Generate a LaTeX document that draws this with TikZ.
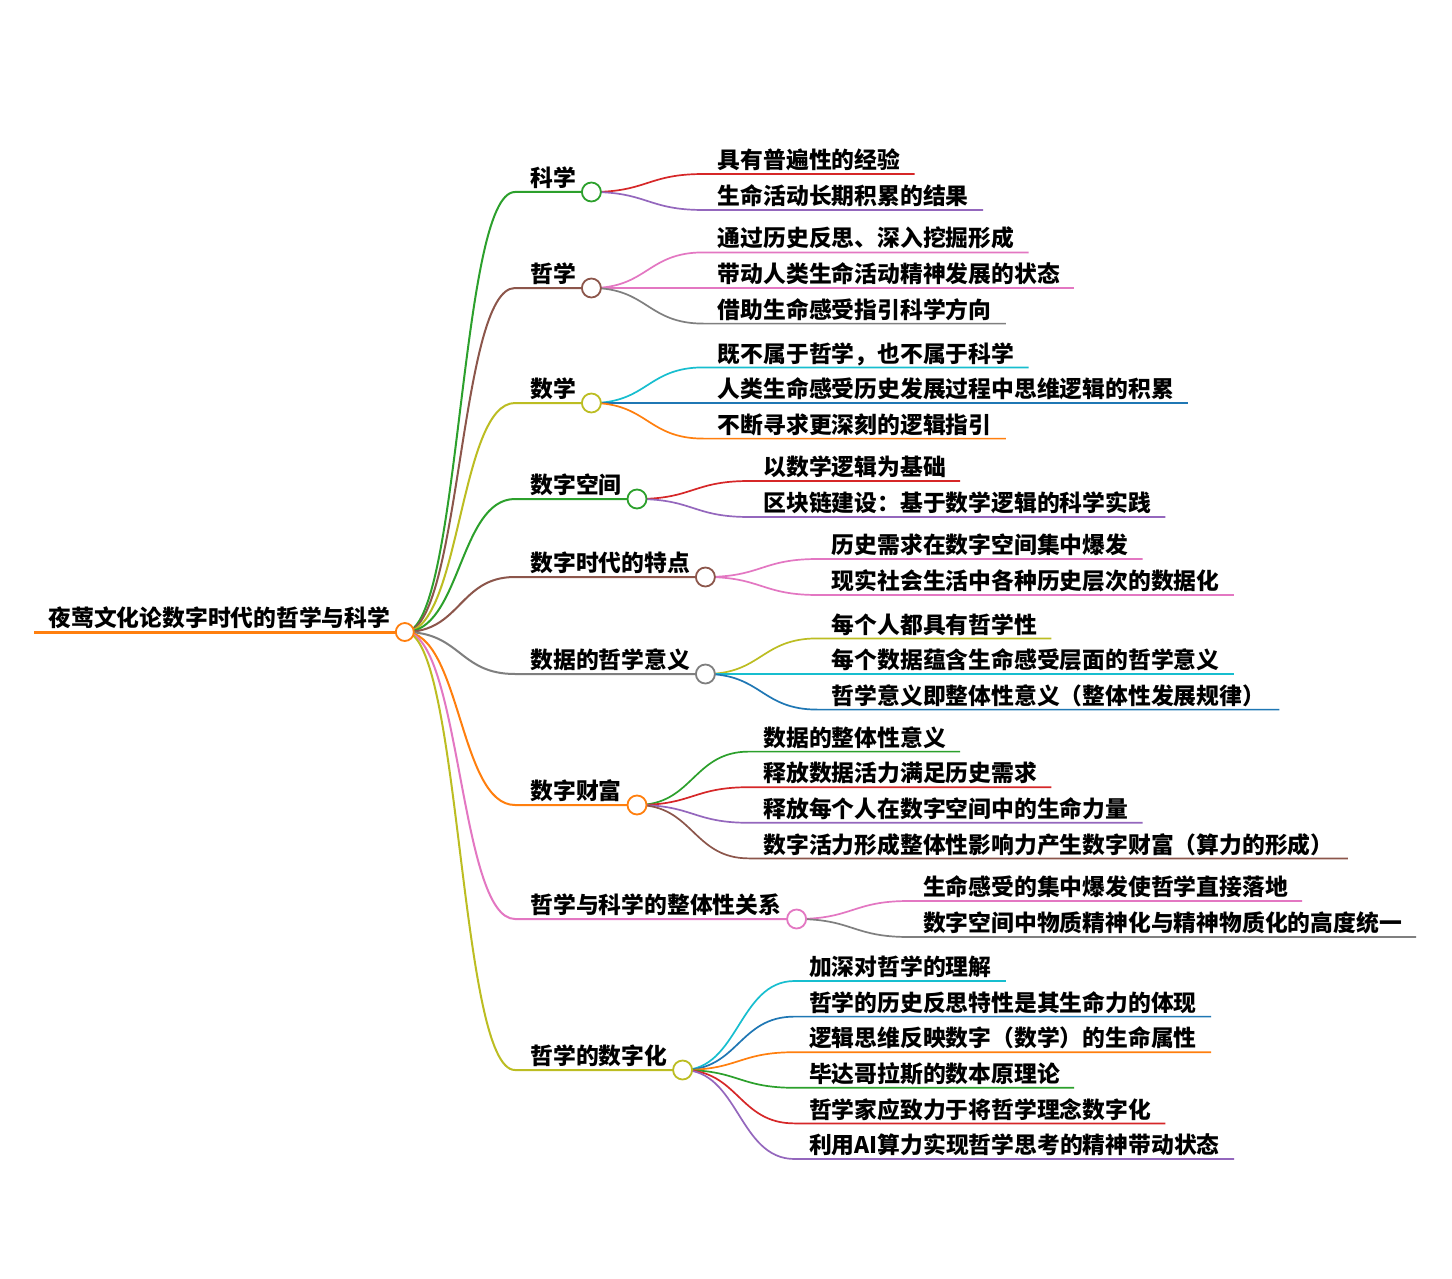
\documentclass[tikz,border=0pt]{standalone}
\usepackage{fontspec}
\usepackage{tikz}
\usepackage{xcolor}
\usetikzlibrary{positioning}

\newfontfamily\cjk{Noto Sans CJK SC}

\definecolor{mmblue}{HTML}{1F77B4}
\definecolor{mmorange}{HTML}{FF7F0E}
\definecolor{mmgreen}{HTML}{2CA02C}
\definecolor{mmred}{HTML}{D62728}
\definecolor{mmpurple}{HTML}{9467BD}
\definecolor{mmbrown}{HTML}{8C564B}
\definecolor{mmpink}{HTML}{E377C2}
\definecolor{mmgray}{HTML}{7F7F7F}
\definecolor{mmolive}{HTML}{BCBD22}
\definecolor{mmcyan}{HTML}{17BECF}

\begin{document}
\begin{tikzpicture}[
    x=0.5pt, y=-0.5pt,
    topic/.style={anchor=south west, inner xsep=7.5pt, inner ysep=1.5pt, text height=8.7pt, text depth=1pt, font=\cjk\bfseries\fontsize{11.4pt}{13pt}\selectfont},
    leaf/.style={topic, inner xsep=7pt},
    dot/.style={circle, draw, fill=white, inner sep=0pt, minimum size=9.5pt, line width=0.9pt},
    branch/.style={line width=1pt, to path={.. controls ([xshift=28pt]\tikztostart) and ([xshift=-28pt]\tikztotarget) .. (\tikztotarget)}},
    twig/.style={branch, line width=0.85pt}
]

\fill [white] (0,0) rectangle (1452,1279);

% Root
\node [topic, inner xsep=7pt] (root) at (34,632) {夜莺文化论数字时代的哲学与科学};

% Main topics
\node [topic] (kexue) at (515,192) {科学};
\node [topic] (zhexue) at (515,288) {哲学};
\node [topic] (shuxue) at (515,403) {数学};
\node [topic] (kongjian) at (515,499) {数字空间};
\node [topic] (tedian) at (515,577) {数字时代的特点};
\node [topic] (yiyi) at (515,674) {数据的哲学意义};
\node [topic] (caifu) at (515,805) {数字财富};
\node [topic] (guanxi) at (515,919) {哲学与科学的整体性关系};
\node [topic] (shuzihua) at (515,1070) {哲学的数字化};

% Leaves
\node [leaf] (kexue1) at ([shift={(56pt,9pt)}]kexue.south east) {具有普遍性的经验};
\node [leaf] (kexue2) at ([shift={(56pt,-9pt)}]kexue.south east) {生命活动长期积累的结果};

\node [leaf] (zhexue1) at ([shift={(56pt,17.8pt)}]zhexue.south east) {通过历史反思、深入挖掘形成};
\node [leaf] (zhexue2) at ([shift={(56pt,0pt)}]zhexue.south east) {带动人类生命活动精神发展的状态};
\node [leaf] (zhexue3) at ([shift={(56pt,-17.8pt)}]zhexue.south east) {借助生命感受指引科学方向};

\node [leaf] (shuxue1) at ([shift={(56pt,17.8pt)}]shuxue.south east) {既不属于哲学，也不属于科学};
\node [leaf] (shuxue2) at ([shift={(56pt,0pt)}]shuxue.south east) {人类生命感受历史发展过程中思维逻辑的积累};
\node [leaf] (shuxue3) at ([shift={(56pt,-17.8pt)}]shuxue.south east) {不断寻求更深刻的逻辑指引};

\node [leaf] (kongjian1) at ([shift={(56pt,9pt)}]kongjian.south east) {以数学逻辑为基础};
\node [leaf] (kongjian2) at ([shift={(56pt,-9pt)}]kongjian.south east) {区块链建设：基于数学逻辑的科学实践};

\node [leaf] (tedian1) at ([shift={(56pt,9pt)}]tedian.south east) {历史需求在数字空间集中爆发};
\node [leaf] (tedian2) at ([shift={(56pt,-9pt)}]tedian.south east) {现实社会生活中各种历史层次的数据化};

\node [leaf] (yiyi1) at ([shift={(56pt,17.8pt)}]yiyi.south east) {每个人都具有哲学性};
\node [leaf] (yiyi2) at ([shift={(56pt,0pt)}]yiyi.south east) {每个数据蕴含生命感受层面的哲学意义};
\node [leaf] (yiyi3) at ([shift={(56pt,-17.8pt)}]yiyi.south east) {哲学意义即整体性意义（整体性发展规律）};

\node [leaf] (caifu1) at ([shift={(56pt,26.7pt)}]caifu.south east) {数据的整体性意义};
\node [leaf] (caifu2) at ([shift={(56pt,8.9pt)}]caifu.south east) {释放数据活力满足历史需求};
\node [leaf] (caifu3) at ([shift={(56pt,-8.9pt)}]caifu.south east) {释放每个人在数字空间中的生命力量};
\node [leaf] (caifu4) at ([shift={(56pt,-26.7pt)}]caifu.south east) {数字活力形成整体性影响力产生数字财富（算力的形成）};

\node [leaf] (guanxi1) at ([shift={(56pt,9pt)}]guanxi.south east) {生命感受的集中爆发使哲学直接落地};
\node [leaf] (guanxi2) at ([shift={(56pt,-9pt)}]guanxi.south east) {数字空间中物质精神化与精神物质化的高度统一};

\node [leaf] (shuzihua1) at ([shift={(56pt,44.5pt)}]shuzihua.south east) {加深对哲学的理解};
\node [leaf] (shuzihua2) at ([shift={(56pt,26.7pt)}]shuzihua.south east) {哲学的历史反思特性是其生命力的体现};
\node [leaf] (shuzihua3) at ([shift={(56pt,8.9pt)}]shuzihua.south east) {逻辑思维反映数字（数学）的生命属性};
\node [leaf] (shuzihua4) at ([shift={(56pt,-8.9pt)}]shuzihua.south east) {毕达哥拉斯的数本原理论};
\node [leaf] (shuzihua5) at ([shift={(56pt,-26.7pt)}]shuzihua.south east) {哲学家应致力于将哲学理念数字化};
\node [leaf] (shuzihua6) at ([shift={(56pt,-44.5pt)}]shuzihua.south east) {利用AI算力实现哲学思考的精神带动状态};

% Root connections
\draw [mmorange, line width=1.5pt] (root.south west) -- (root.south east);
\draw [branch, mmgreen] (root.south east) to (kexue.south west) -- (kexue.south east);
\draw [branch, mmbrown] (root.south east) to (zhexue.south west) -- (zhexue.south east);
\draw [branch, mmolive] (root.south east) to (shuxue.south west) -- (shuxue.south east);
\draw [branch, mmgreen] (root.south east) to (kongjian.south west) -- (kongjian.south east);
\draw [branch, mmbrown] (root.south east) to (tedian.south west) -- (tedian.south east);
\draw [branch, mmgray] (root.south east) to (yiyi.south west) -- (yiyi.south east);
\draw [branch, mmorange] (root.south east) to (caifu.south west) -- (caifu.south east);
\draw [branch, mmpink] (root.south east) to (guanxi.south west) -- (guanxi.south east);
\draw [branch, mmolive] (root.south east) to (shuzihua.south west) -- (shuzihua.south east);

% Leaf connections
\draw [twig, mmred] (kexue.south east) to (kexue1.south west) -- (kexue1.south east);
\draw [twig, mmpurple] (kexue.south east) to (kexue2.south west) -- (kexue2.south east);

\draw [twig, mmpink] (zhexue.south east) to (zhexue1.south west) -- (zhexue1.south east);
\draw [twig, mmpink] (zhexue.south east) to (zhexue2.south west) -- (zhexue2.south east);
\draw [twig, mmgray] (zhexue.south east) to (zhexue3.south west) -- (zhexue3.south east);

\draw [twig, mmcyan] (shuxue.south east) to (shuxue1.south west) -- (shuxue1.south east);
\draw [twig, mmblue] (shuxue.south east) to (shuxue2.south west) -- (shuxue2.south east);
\draw [twig, mmorange] (shuxue.south east) to (shuxue3.south west) -- (shuxue3.south east);

\draw [twig, mmred] (kongjian.south east) to (kongjian1.south west) -- (kongjian1.south east);
\draw [twig, mmpurple] (kongjian.south east) to (kongjian2.south west) -- (kongjian2.south east);

\draw [twig, mmpink] (tedian.south east) to (tedian1.south west) -- (tedian1.south east);
\draw [twig, mmpink] (tedian.south east) to (tedian2.south west) -- (tedian2.south east);

\draw [twig, mmolive] (yiyi.south east) to (yiyi1.south west) -- (yiyi1.south east);
\draw [twig, mmcyan] (yiyi.south east) to (yiyi2.south west) -- (yiyi2.south east);
\draw [twig, mmblue] (yiyi.south east) to (yiyi3.south west) -- (yiyi3.south east);

\draw [twig, mmgreen] (caifu.south east) to (caifu1.south west) -- (caifu1.south east);
\draw [twig, mmred] (caifu.south east) to (caifu2.south west) -- (caifu2.south east);
\draw [twig, mmpurple] (caifu.south east) to (caifu3.south west) -- (caifu3.south east);
\draw [twig, mmbrown] (caifu.south east) to (caifu4.south west) -- (caifu4.south east);

\draw [twig, mmpink] (guanxi.south east) to (guanxi1.south west) -- (guanxi1.south east);
\draw [twig, mmgray] (guanxi.south east) to (guanxi2.south west) -- (guanxi2.south east);

\draw [twig, mmcyan] (shuzihua.south east) to (shuzihua1.south west) -- (shuzihua1.south east);
\draw [twig, mmblue] (shuzihua.south east) to (shuzihua2.south west) -- (shuzihua2.south east);
\draw [twig, mmorange] (shuzihua.south east) to (shuzihua3.south west) -- (shuzihua3.south east);
\draw [twig, mmgreen] (shuzihua.south east) to (shuzihua4.south west) -- (shuzihua4.south east);
\draw [twig, mmred] (shuzihua.south east) to (shuzihua5.south west) -- (shuzihua5.south east);
\draw [twig, mmpurple] (shuzihua.south east) to (shuzihua6.south west) -- (shuzihua6.south east);

% Dots
\node [dot, draw=mmorange, minimum size=9pt] (rootdot) at (root.south east) {};
\node [dot, draw=mmgreen] (kexuedot) at (kexue.south east) {};
\node [dot, draw=mmbrown] (zhexuedot) at (zhexue.south east) {};
\node [dot, draw=mmolive] (shuxuedot) at (shuxue.south east) {};
\node [dot, draw=mmgreen] (kongjiandot) at (kongjian.south east) {};
\node [dot, draw=mmbrown] (tediandot) at (tedian.south east) {};
\node [dot, draw=mmgray] (yiyidot) at (yiyi.south east) {};
\node [dot, draw=mmorange] (caifudot) at (caifu.south east) {};
\node [dot, draw=mmpink] (guanxidot) at (guanxi.south east) {};
\node [dot, draw=mmolive] (shuzihuadot) at (shuzihua.south east) {};

\end{tikzpicture}
\end{document}
